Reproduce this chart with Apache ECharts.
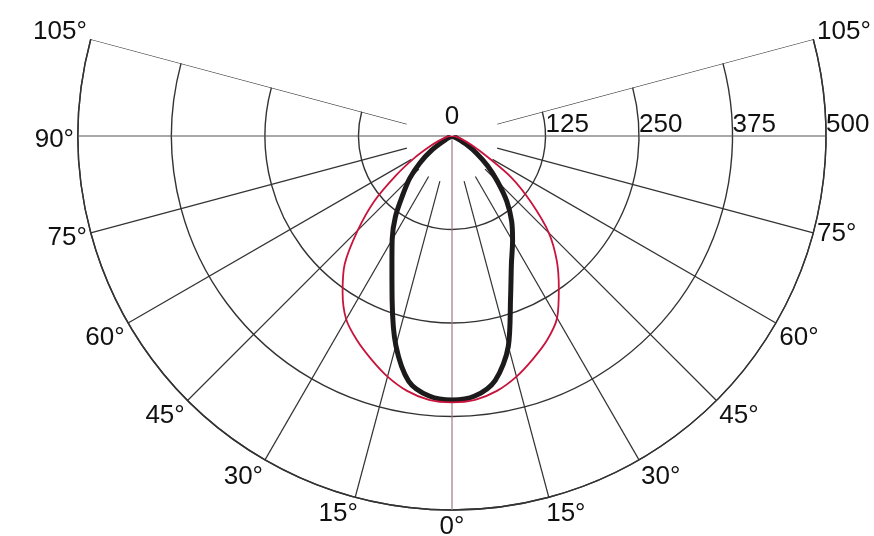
<!DOCTYPE html>
<html>
<head>
<meta charset="utf-8">
<style>
  html, body { margin: 0; padding: 0; background: #fff; }
  #chart { width: 874px; height: 536px; }
</style>
<script src="https://cdn.jsdelivr.net/npm/echarts@6/dist/echarts.min.js"></script>
</head>
<body>
<div id="chart"></div>
<script>
// gamma angles (deg from nadir), intensity in cd
const gammas = [0, 5, 10, 15, 20, 25, 30, 35, 40, 45, 50, 55, 60, 65, 70, 75, 80, 85, 90];
const blackLeft  = [353, 349, 333, 290, 234, 190, 160, 132, 102, 80, 56, 33, 11, 4, 0, 0, 0, 0, 0];
const blackRight = [353, 349, 332, 291, 229, 188, 162, 139, 114, 86, 62, 40, 21, 8, 2, 0, 0, 0, 0];
const redLeft    = [356, 354, 346, 333, 317, 301, 283, 255, 223, 178, 136, 91, 57, 33, 19, 11, 7, 3, 0];
const redRight   = [356, 354, 346, 333, 317, 301, 281, 249, 218, 183, 138, 97, 52, 30, 17, 10, 6, 3, 0];

const spokeAngles = [-105, -75, -60, -45, -30, -15, 15, 30, 45, 60, 75, 105];
const spokeStart = 62.5;
const rMax = 500;
const rStep = 125;

const C = [452, 136];
const R = 374;
const font = 'Liberation Sans, Arial, sans-serif';
const txt = { fontSize: 26, color: '#111', fontFamily: font };

// right half uses negative axis values
function curve(left, right) {
  const pts = [];
  for (let i = gammas.length - 1; i > 0; i--) pts.push([right[i], -gammas[i]]);
  pts.push([right[0], 0]);
  for (let i = 1; i < gammas.length; i++) pts.push([left[i], gammas[i]]);
  return pts;
}

function angleLabel(v) {
  const s = Math.abs(v) + '°';
  if (v === -90) return '';
  if (v === 15) return '{l|' + s + '}';
  if (v === -15) return '{r|' + s + '}';
  if (v === 105 || v === -105) return '{up|' + s + '}';
  if (v === 90 || v === 75) return '{dn|' + s + '}';
  if (v === -60) return '{up|' + s + '}';
  return s;
}

const chart = echarts.init(document.getElementById('chart'));

const base = { type: 'line', coordinateSystem: 'polar', polarIndex: 0, symbol: 'none', silent: true };

const spokes = spokeAngles.map(a => ({
  ...base, clip: false,
  data: [[spokeStart, a], [rMax, a]],
  lineStyle: { color: '#333', width: 1.2 }
}));

chart.setOption({
  animation: false,
  backgroundColor: '#fff',
  polar: [
    { center: C, radius: R },
    { center: C, radius: R },
    { center: C, radius: R }
  ],
  angleAxis: [
    {
      polarIndex: 0, type: 'value', min: -105, max: 105, interval: 15,
      startAngle: 15, endAngle: -195, clockwise: true,
      axisLine: { lineStyle: { color: '#333', width: 1.4 } },
      axisTick: { show: false },
      splitLine: { show: false },
      axisLabel: {
        formatter: angleLabel, margin: 4, ...txt,
        rich: {
          l: { ...txt, padding: [0, 32, 0, 0] },
          r: { ...txt, padding: [0, 0, 0, 32] },
          up: { ...txt, padding: [0, 0, 12, 0] },
          dn: { ...txt, padding: [8, 0, 0, 0] }
        }
      }
    },
    { polarIndex: 1, type: 'value', min: 0, max: 360, startAngle: 0, show: false },
    { polarIndex: 2, type: 'value', min: 0, max: 360, startAngle: 0, show: false }
  ],
  radiusAxis: [
    {
      polarIndex: 0, min: 0, max: rMax, interval: rStep,
      axisLine: { show: false }, axisTick: { show: false }, axisLabel: { show: false },
      splitLine: { lineStyle: { color: '#333', width: 1.4 } }
    },
    {
      polarIndex: 1, min: 0, max: rMax, interval: rStep,
      axisLine: { show: false }, axisTick: { show: false }, splitLine: { show: false },
      axisLabel: {
        formatter: v => (v === 0 ? '' : String(v)),
        align: 'left', verticalAlign: 'bottom', margin: -2, ...txt
      }
    },
    {
      polarIndex: 2, min: 0, max: rMax, interval: rStep,
      axisLine: { show: false }, axisTick: { show: false }, splitLine: { show: false },
      axisLabel: {
        formatter: v => (v === 0 ? '0' : ''),
        align: 'center', verticalAlign: 'bottom', margin: 6, ...txt
      }
    }
  ],
  series: [
    ...spokes,
    {
      ...base, clip: false,
      data: [[rMax, -90], [0, 0], [rMax, 90]],
      lineStyle: { color: '#555', width: 1.2 }
    },
    {
      ...base, clip: false,
      data: [[rMax, 0], [0, 0], [spokeStart, 180]],
      lineStyle: { color: '#9b7d84', width: 1.2 }
    },
    {
      ...base, name: 'black', smooth: 0.3,
      data: curve(blackLeft, blackRight),
      lineStyle: { color: '#1c1a1a', width: 5 }
    },
    {
      ...base, name: 'red', smooth: 0.3,
      data: curve(redLeft, redRight),
      lineStyle: { color: '#c8143c', width: 1.8 }
    }
  ]
});
</script>
</body>
</html>
